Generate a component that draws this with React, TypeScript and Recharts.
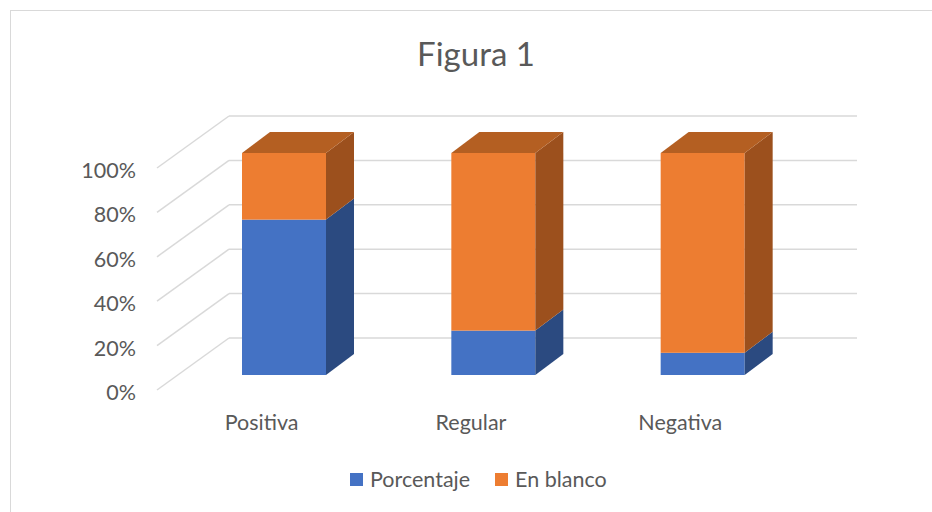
import { BarChart, Bar, XAxis, YAxis, CartesianGrid } from "recharts";

const categories = ["Positiva", "Regular", "Negativa"];
const porcentaje = [0.7, 0.2, 0.1];
const enBlanco = [0.3, 0.8, 0.9];
const yTicks = [0, 0.2, 0.4, 0.6, 0.8, 1];

const rows = categories.map((name, i) => ({
  name,
  porcentaje: porcentaje[i],
  enBlanco: enBlanco[i],
}));

const FONT = "Lato, 'Open Sans', sans-serif";
const TEXT = "#595959";
const GRID = "#D9D9D9";
const DX = 28;
const DY = 21;

function Box3D(props: any) {
  const { x, y, width, height, front, side, top, showTop } = props;
  if (!width || height == null) return null;
  const r = x + width;
  return (
    <g>
      <rect x={x} y={y} width={width} height={height} fill={front} />
      <polygon
        points={`${r},${y} ${r + DX},${y - DY} ${r + DX},${y + height - DY} ${r},${y + height}`}
        fill={side}
      />
      {showTop && (
        <polygon
          points={`${x},${y} ${x + DX},${y - DY} ${r + DX},${y - DY} ${r},${y}`}
          fill={top}
        />
      )}
    </g>
  );
}

function GridLine(props: any) {
  const { y1 } = props;
  return (
    <g key={props.key}>
      <line x1={157} y1={y1 + 15} x2={229} y2={y1 - 37} stroke={GRID} strokeWidth={1.5} />
      <line x1={229} y1={y1 - 37} x2={857} y2={y1 - 37} stroke={GRID} strokeWidth={1.5} />
    </g>
  );
}

function YTick(props: any) {
  const { y, payload } = props;
  return (
    <text x={136} y={y + 25} textAnchor="end" fill={TEXT} fontSize={21.5} fontFamily={FONT}>
      {Math.round(payload.value * 100)}%
    </text>
  );
}

function XTick(props: any) {
  const { x, payload } = props;
  return (
    <text x={x - 22} y={430} textAnchor="middle" fill={TEXT} fontSize={21.5} fontFamily={FONT}>
      {payload.value}
    </text>
  );
}

export default function App() {
  return (
    <div style={{ position: "absolute", left: 0, top: 0, width: 932, height: 512, overflow: "hidden", background: "#fff" }}>
      <div style={{ position: "absolute", left: 10, top: 10, width: 940, height: 540, border: `1.5px solid ${GRID}` }} />
      <div style={{ position: "absolute", left: 0, top: 0 }}>
        <BarChart width={932} height={512} data={rows} margin={{ top: 153, right: 125, bottom: 107, left: 119 }}>
          <CartesianGrid vertical={false} horizontal={(p: any) => <GridLine {...p} />} />
          <XAxis dataKey="name" axisLine={false} tickLine={false} height={30} tick={<XTick />} />
          <YAxis
            domain={[0, 1]}
            ticks={yTicks}
            width={60}
            axisLine={false}
            tickLine={false}
            tick={<YTick />}
            interval={0}
          />
          <Bar
            dataKey="porcentaje"
            stackId="a"
            barSize={84}
            isAnimationActive={false}
            shape={(p: any) => <Box3D {...p} front="#4472C4" side="#2B4A80" top="#34589A" />}
          />
          <Bar
            dataKey="enBlanco"
            stackId="a"
            barSize={84}
            isAnimationActive={false}
            shape={(p: any) => <Box3D {...p} front="#ED7D31" side="#9C501D" top="#B45F22" showTop />}
          />
        </BarChart>
      </div>
      <div
        style={{
          position: "absolute",
          left: 0,
          top: 33,
          width: 952,
          textAlign: "center",
          fontFamily: FONT,
          fontSize: 33,
          color: TEXT,
        }}
      >
        Figura 1
      </div>
      <div
        style={{
          position: "absolute",
          left: 350,
          top: 466,
          display: "flex",
          alignItems: "center",
          fontFamily: FONT,
          fontSize: 21.5,
          color: TEXT,
        }}
      >
        <span style={{ width: 13, height: 13, background: "#4472C4", marginRight: 7 }} />
        <span>Porcentaje</span>
        <span style={{ width: 13, height: 13, background: "#ED7D31", marginLeft: 25, marginRight: 7 }} />
        <span>En blanco</span>
      </div>
    </div>
  );
}
